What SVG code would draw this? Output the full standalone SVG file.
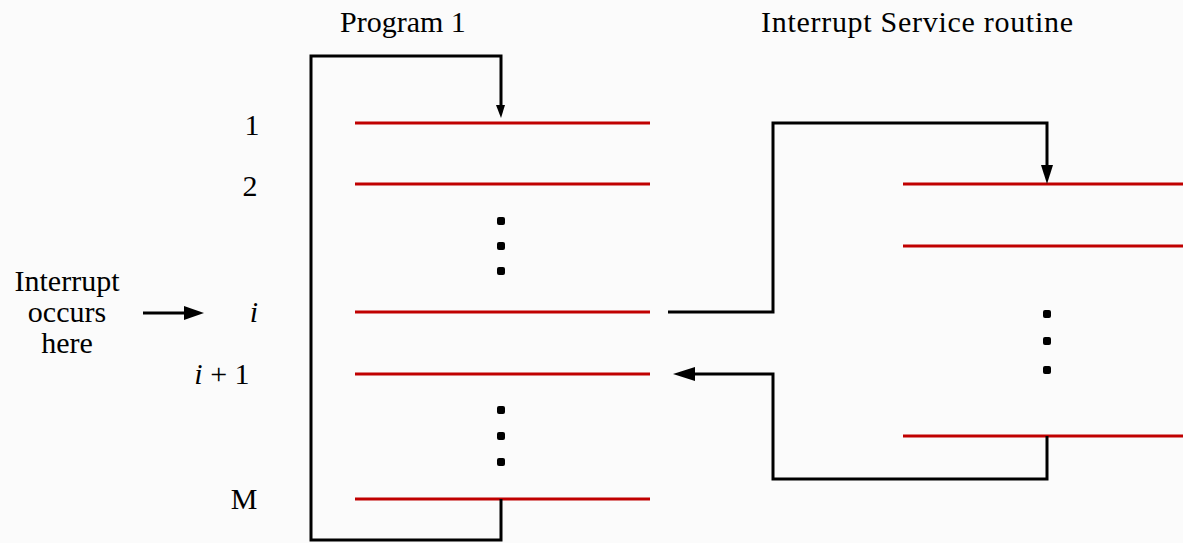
<svg xmlns="http://www.w3.org/2000/svg" width="1183" height="543" viewBox="0 0 1183 543">
<style>
.t{font-family:"Liberation Serif","Times New Roman","DejaVu Serif",serif;font-size:30px;fill:#000}
.it{font-style:italic}
.red{stroke:#c00000;stroke-width:3;fill:none}
.c{stroke:#000;stroke-width:3;fill:none;stroke-linejoin:miter}
.dot{fill:#000}
</style>
<rect width="1183" height="543" fill="#fbfbfb"/>
<g id="labels">
<text class="t" x="340" y="32">Program 1</text>
<text class="t" x="761" y="32" textLength="312">Interrupt Service routine</text>
<text class="t" x="252" y="135" text-anchor="middle">1</text>
<text class="t" x="250" y="196" text-anchor="middle">2</text>
<text class="t it" x="254" y="322" text-anchor="middle">i</text>
<text class="t" x="222" y="384" text-anchor="middle"><tspan class="it">i</tspan> + 1</text>
<text class="t" x="244" y="509" text-anchor="middle">M</text>
<text class="t" x="67" y="291" text-anchor="middle">Interrupt</text>
<text class="t" x="67" y="322" text-anchor="middle">occurs</text>
<text class="t" x="67" y="353" text-anchor="middle">here</text>
</g>
<g id="program1">
<line class="red" x1="355" y1="123" x2="650" y2="123"/>
<line class="red" x1="355" y1="184" x2="650" y2="184"/>
<line class="red" x1="355" y1="312" x2="650" y2="312"/>
<line class="red" x1="355" y1="374" x2="650" y2="374"/>
<line class="red" x1="355" y1="499" x2="650" y2="499"/>
<rect class="dot" x="497" y="217" width="8" height="8" rx="2"/>
<rect class="dot" x="497" y="242" width="8" height="8" rx="2"/>
<rect class="dot" x="497" y="267" width="8" height="8" rx="2"/>
<rect class="dot" x="497" y="406" width="8" height="8" rx="2"/>
<rect class="dot" x="497" y="432" width="8" height="8" rx="2"/>
<rect class="dot" x="497" y="458" width="8" height="8" rx="2"/>
</g>
<g id="isr">
<line class="red" x1="903" y1="184" x2="1183" y2="184"/>
<line class="red" x1="903" y1="246" x2="1183" y2="246"/>
<line class="red" x1="903" y1="436" x2="1183" y2="436"/>
<rect class="dot" x="1043" y="310" width="8" height="8" rx="2"/>
<rect class="dot" x="1043" y="337" width="8" height="8" rx="2"/>
<rect class="dot" x="1043" y="366" width="8" height="8" rx="2"/>
</g>
<g id="connectors">
<path class="c" d="M501,499 V540 H311 V56 H501 V105"/>
<path d="M496,105 L505,105 L501,118 z" fill="#000"/>
<path class="c" d="M668,312 H773 V123 H1047 V165"/>
<path d="M1041,165 L1053,165 L1047,184 z" fill="#000"/>
<path class="c" d="M1047,436 V479 H773 V374 H695"/>
<path d="M695,367 L695,381 L673,374 z" fill="#000"/>
<path class="c" d="M143,313 H185"/>
<path d="M184,306 L184,320 L204,313 z" fill="#000"/>
</g>
</svg>
